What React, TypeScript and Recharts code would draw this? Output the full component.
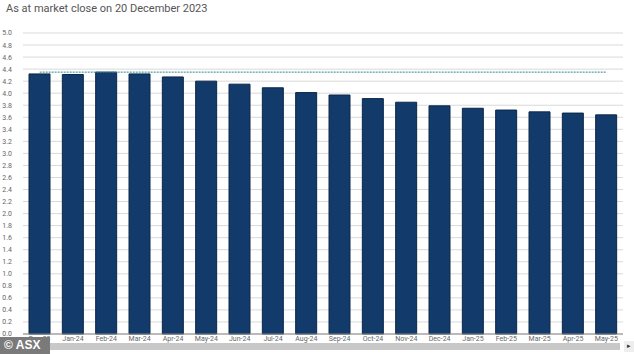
import React from 'react';
import { ComposedChart, Bar, Line, XAxis, YAxis, CartesianGrid } from 'recharts';

const months = [
  'Dec-23', 'Jan-24', 'Feb-24', 'Mar-24', 'Apr-24', 'May-24', 'Jun-24', 'Jul-24', 'Aug-24',
  'Sep-24', 'Oct-24', 'Nov-24', 'Dec-24', 'Jan-25', 'Feb-25', 'Mar-25', 'Apr-25', 'May-25',
];
const impliedRate = [
  4.32, 4.31, 4.35, 4.32, 4.27, 4.2, 4.15, 4.09, 4.01,
  3.97, 3.91, 3.85, 3.79, 3.75, 3.72, 3.69, 3.67, 3.64,
];
const cashRate = [
  4.35, 4.35, 4.35, 4.35, 4.35, 4.35, 4.35, 4.35, 4.35,
  4.35, 4.35, 4.35, 4.35, 4.35, 4.35, 4.35, 4.35, 4.35,
];
const yTicks = [
  0, 0.2, 0.4, 0.6, 0.8, 1, 1.2, 1.4, 1.6, 1.8, 2, 2.2, 2.4, 2.6, 2.8,
  3, 3.2, 3.4, 3.6, 3.8, 4, 4.2, 4.4, 4.6, 4.8, 5,
];

const data = months.map((m, i) => ({ month: m, implied: impliedRate[i], cash: cashRate[i] }));

const font = 'Roboto, "Noto Sans", sans-serif';

export default function App() {
  return (
    <div style={{ position: 'absolute', left: 0, top: 0, width: 634, height: 354, background: '#fff', fontFamily: font, overflow: 'hidden' }}>
      <div style={{ position: 'absolute', left: 6, top: 2, fontSize: 11, color: '#555' }}>
        As at market close on 20 December 2023
      </div>
      <ComposedChart
        width={634}
        height={354}
        data={data}
        margin={{ top: 33, right: 11, left: 0, bottom: 0 }}
        style={{ position: 'absolute', left: 0, top: 0 }}
      >
        <CartesianGrid vertical={false} stroke="#d9d9d9" strokeWidth={1} />
        <XAxis
          dataKey="month"
          axisLine={{ stroke: '#888' }}
          tickLine={false}
          tickSize={0}
          tick={{ fill: '#666', fontSize: 7, fontFamily: font }}
          interval={0}
          height={20}
          tickMargin={2}
        />
        <YAxis
          domain={[0, 5]}
          ticks={yTicks}
          interval={0}
          axisLine={false}
          tickLine={false}
          width={23}
          tickMargin={5}
          tick={{ fill: '#666', fontSize: 7, fontFamily: font }}
          tickFormatter={(v: number) => v.toFixed(1)}
        />
        <Bar dataKey="implied" fill="#123a6b" stroke="#0a2748" strokeWidth={1} barSize={21} isAnimationActive={false} />
        <Line
          dataKey="cash"
          stroke="#2a8a8a"
          strokeWidth={1}
          strokeDasharray="2 1"
          dot={false}
          isAnimationActive={false}
        />
      </ComposedChart>
      <div style={{ position: 'absolute', left: 0, top: 343, width: 620, height: 7, background: '#c8c8c8' }} />
      <div style={{ position: 'absolute', left: 624, top: 341, width: 10, height: 11, background: '#eee', color: '#333', fontSize: 7, lineHeight: '11px', textAlign: 'center' }}>
        ▸
      </div>
      <div style={{ position: 'absolute', left: 0, top: 337, width: 50, height: 17, background: '#7a7a7a', color: '#fff', fontWeight: 700, fontSize: 12, lineHeight: '17px', paddingLeft: 4, boxSizing: 'border-box', fontFamily: '"Liberation Sans", Arial, sans-serif' }}>
        © ASX
      </div>
    </div>
  );
}
